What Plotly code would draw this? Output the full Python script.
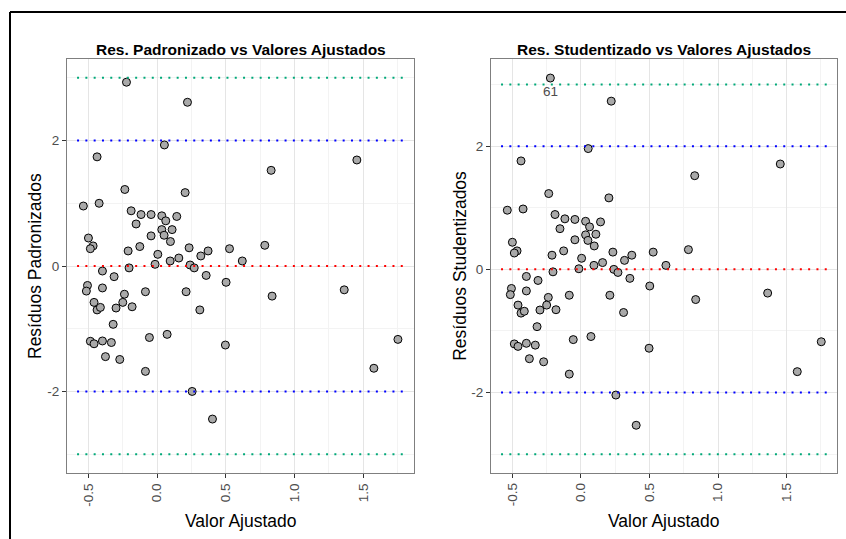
import plotly.graph_objects as go

# Fitted values (shared x for both panels)
valor_ajustado = [
    0.053, -0.437, -0.235, 0.204, -0.537, -0.422, -0.189, -0.117, -0.044, 0.034,
    0.143, 0.063, -0.153, 0.034, 0.109, 0.051, -0.044, 0.097, -0.500, -0.466,
    -0.486, -0.126, -0.211, 0.233, 0.371, 0.318, 0.527, 0.784, 0.005, 0.158,
    0.095, 0.620, -0.015, 0.240, 0.270, -0.204, -0.398, -0.313, 0.357, 0.502,
    -0.507, -0.515, -0.398, -0.238, -0.085, 0.211, -0.459, -0.250, -0.437, -0.413,
    -0.299, -0.182, 0.311, -0.320, 0.073, -0.056, -0.486, -0.459, -0.398, -0.333,
    0.497, -0.376, -0.272, -0.085, 0.255, -0.223, 0.221, 1.454, 0.830, 1.362,
    0.837, 1.753, 1.578, 0.403,
]

# Standardized residuals (left panel)
res_padronizado = [
    1.93, 1.74, 1.22, 1.17, 0.956, 1.00, 0.88, 0.82, 0.82, 0.80,
    0.79, 0.72, 0.67, 0.58, 0.58, 0.49, 0.48, 0.39, 0.446, 0.32,
    0.276, 0.31, 0.24, 0.29, 0.24, 0.16, 0.276, 0.33, 0.186, 0.127,
    0.08, 0.08, 0.027, 0.016, -0.03, -0.03, -0.08, -0.17, -0.15, -0.26,
    -0.31, -0.40, -0.35, -0.45, -0.41, -0.41, -0.58, -0.58, -0.70, -0.66,
    -0.67, -0.65, -0.70, -0.93, -1.09, -1.14, -1.20, -1.24, -1.195, -1.22,
    -1.26, -1.445, -1.49, -1.68, -2.00, 2.93, 2.61, 1.69, 1.525, -0.38,
    -0.48, -1.17, -1.63, -2.44,
]

# Studentized residuals (right panel)
res_studentizado = [
    1.96, 1.76, 1.23, 1.16, 0.96, 0.98, 0.89, 0.82, 0.81, 0.78,
    0.77, 0.69, 0.66, 0.56, 0.57, 0.47, 0.48, 0.38, 0.44, 0.30,
    0.265, 0.30, 0.23, 0.28, 0.23, 0.146, 0.28, 0.32, 0.18, 0.11,
    0.065, 0.065, 0.01, 0.0, -0.05, -0.04, -0.115, -0.18, -0.146, -0.27,
    -0.31, -0.41, -0.35, -0.455, -0.42, -0.42, -0.58, -0.58, -0.71, -0.68,
    -0.66, -0.655, -0.70, -0.93, -1.09, -1.14, -1.21, -1.25, -1.20, -1.23,
    -1.28, -1.45, -1.50, -1.70, -2.04, 3.105, 2.73, 1.71, 1.52, -0.385,
    -0.49, -1.175, -1.66, -2.53,
]

x_tickvals = [-0.5, 0.0, 0.5, 1.0, 1.5]
x_ticktext = ["-0.5", "0.0", "0.5", "1.0", "1.5"]
x_minor = [-0.25, 0.25, 0.75, 1.25, 1.75]
y_tickvals = [-2, 0, 2]
y_ticktext = ["-2", "0", "2"]
y_minor = [-3, -1, 1, 3]

ref_lines = [(3, "#00A878"), (2, "#0000FF"), (0, "#FF0000"), (-2, "#0000FF"), (-3, "#00A878")]

outlier_index = 65
outlier_label = "61"

titles = ["Res. Padronizado vs Valores Ajustados", "Res. Studentizado vs Valores Ajustados"]
ytitles = ["Resíduos Padronizados", "Resíduos Studentizados"]
xtitle = "Valor Ajustado"

W, H = 846, 539
FONT = "Liberation Sans, Arial, sans-serif"

fig = go.Figure()

marker = dict(size=8, color="#A9A9A9", line=dict(color="black", width=1))
fig.add_trace(go.Scatter(x=valor_ajustado, y=res_padronizado, mode="markers",
                         marker=marker, xaxis="x", yaxis="y", showlegend=False))
fig.add_trace(go.Scatter(x=valor_ajustado, y=res_studentizado, mode="markers",
                         marker=marker, xaxis="x2", yaxis="y2", showlegend=False))

# panel pixel geometry
panels = [
    dict(l=67, r=414, t=59, b=473, yr=[-3.30, 3.30]),
    dict(l=491, r=837.3, t=59, b=472.7, yr=[-3.30, 3.414]),
]

def xaxis_cfg(p, anchor):
    return dict(
        domain=[p["l"] / W, p["r"] / W], anchor=anchor, range=[-0.656, 1.870],
        tickvals=x_tickvals, ticktext=x_ticktext, tickangle=-90,
        ticks="outside", ticklen=4, tickcolor="#333333", tickwidth=1,
        tickfont=dict(family=FONT, size=13.5, color="#4D4D4D"),
        showgrid=True, gridcolor="#E5E5E5", gridwidth=1,
        minor=dict(tickvals=x_minor, showgrid=True, gridcolor="#F3F3F3", gridwidth=1, ticks=""),
        showline=True, mirror=True, linecolor="#7F7F7F", linewidth=1,
        zeroline=False, fixedrange=True,
    )

def yaxis_cfg(p, anchor):
    return dict(
        domain=[1 - p["b"] / H, 1 - p["t"] / H], anchor=anchor, range=p["yr"],
        tickvals=y_tickvals, ticktext=y_ticktext,
        ticks="outside", ticklen=4, tickcolor="#333333", tickwidth=1,
        tickfont=dict(family=FONT, size=13.5, color="#4D4D4D"),
        showgrid=True, gridcolor="#E5E5E5", gridwidth=1,
        minor=dict(tickvals=y_minor, showgrid=True, gridcolor="#F3F3F3", gridwidth=1, ticks=""),
        showline=True, mirror=True, linecolor="#7F7F7F", linewidth=1,
        zeroline=False, fixedrange=True,
    )

shapes = []
annotations = []
for i, p in enumerate(panels):
    xs = "x" if i == 0 else "x2"
    ys = "y" if i == 0 else "y2"
    for val, col in ref_lines:
        shapes.append(dict(type="line", xref=f"{xs} domain", yref=ys,
                           x0=0.029, x1=0.983, y0=val, y1=val,
                           line=dict(color=col, width=2, dash="2px,6.3px"), layer="above"))
    cx = (p["l"] + p["r"]) / 2 / W
    annotations.append(dict(text=f"<b>{titles[i]}</b>", xref="paper", yref="paper",
                            x=cx, y=1 - 49 / H, showarrow=False,
                            font=dict(family=FONT, size=15.5, color="black"),
                            xanchor="center", yanchor="middle"))
    annotations.append(dict(text=xtitle, xref="paper", yref="paper",
                            x=cx, y=1 - 521 / H, showarrow=False,
                            font=dict(family=FONT, size=17.5, color="black"),
                            xanchor="center", yanchor="middle"))
    ytx = 35 if i == 0 else 460
    cy = 1 - (p["t"] + p["b"]) / 2 / H
    annotations.append(dict(text=ytitles[i], xref="paper", yref="paper",
                            x=ytx / W, y=cy, textangle=-90, showarrow=False,
                            font=dict(family=FONT, size=17.5, color="black"),
                            xanchor="center", yanchor="middle"))

annotations.append(dict(text=outlier_label, xref="x2", yref="y2",
                        x=valor_ajustado[outlier_index], y=res_studentizado[outlier_index],
                        yshift=-13, showarrow=False,
                        font=dict(family=FONT, size=13.5, color="#4D4D4D"),
                        xanchor="center", yanchor="middle"))

# outer black frame (top and left edges visible)
shapes.append(dict(type="line", xref="paper", yref="paper", x0=10 / W, x1=1.0,
                   y0=1 - 12 / H, y1=1 - 12 / H, line=dict(color="black", width=2)))
shapes.append(dict(type="line", xref="paper", yref="paper", x0=10 / W, x1=10 / W,
                   y0=0, y1=1 - 12 / H, line=dict(color="black", width=2)))

fig.update_layout(
    width=W, height=H, margin=dict(l=0, r=0, t=0, b=0),
    paper_bgcolor="white", plot_bgcolor="white",
    xaxis=xaxis_cfg(panels[0], "y"), yaxis=yaxis_cfg(panels[0], "x"),
    xaxis2=xaxis_cfg(panels[1], "y2"), yaxis2=yaxis_cfg(panels[1], "x2"),
    shapes=shapes, annotations=annotations, showlegend=False,
    font=dict(family=FONT),
)

fig.write_html("out.html")
